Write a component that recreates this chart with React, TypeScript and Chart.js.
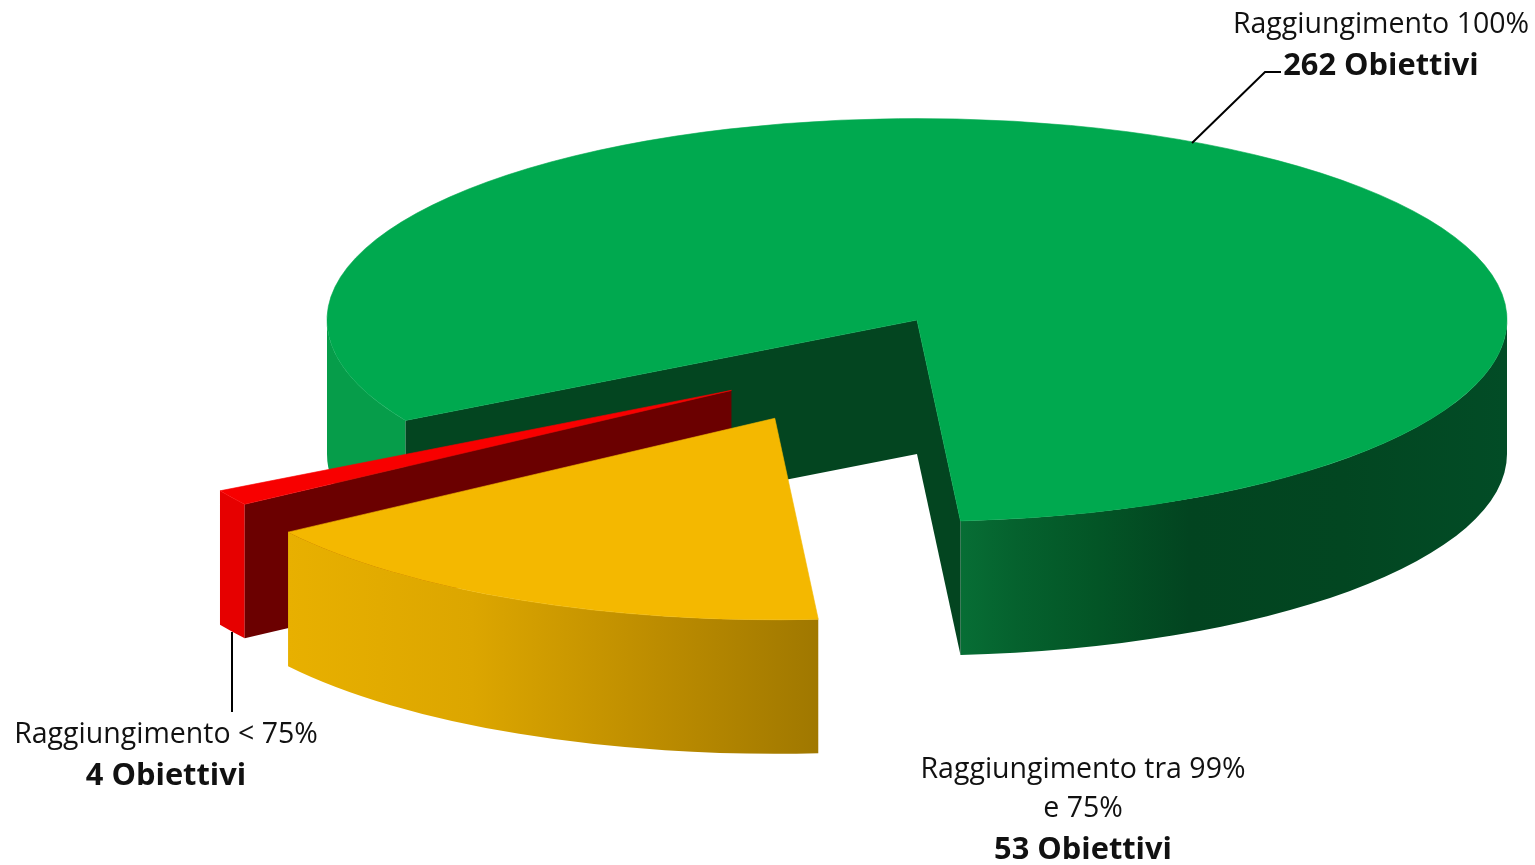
import React, { useEffect, useRef } from "react";
import { Chart, registerables } from "chart.js";

Chart.register(...registerables);

const objectiveCounts = [262, 53, 4];
const categoryLines = [
  ["Raggiungimento 100%"],
  ["Raggiungimento tra 99%", "e 75%"],
  ["Raggiungimento < 75%"],
];
const countSuffix = "Obiettivi";
const topColors = ["#00a94f", "#f4b800", "#f80000"];
const cutColors = ["#034520", "#000000", "#6b0000"];

const view = {
  cx: 917,
  cy: 320,
  rx: 590,
  ry: 201.5,
  depth: 134,
  // explode distance (unit radius) and direction per slice
  explode: [0, 0.544, 0.47],
  explodeDir: [0, 116.3, 132],
  drawOrder: [0, 2, 1],
  rimGradients: [
    [
      { from: 327, to: 405, stops: [[0, "#069d4a"], [1, "#069d4a"]] },
      {
        from: 960,
        to: 1507,
        stops: [[0, "#076e35"], [0.1, "#05622e"], [0.25, "#035526"], [0.42, "#024420"], [0.7, "#024621"], [1, "#024c26"]],
      },
    ],
    [{ from: 287, to: 818, stops: [[0, "#e8b000"], [0.35, "#dca600"], [0.7, "#bc8c00"], [1, "#a07800"]] }],
    [{ from: 219, to: 245, stops: [[0, "#e60000"], [1, "#e60000"]] }],
  ],
  labels: [
    { x: 1381, ys: [25], boldY: 66 },
    { x: 1083, ys: [770, 809], boldY: 850 },
    { x: 166, ys: [735], boldY: 776 },
  ],
  leaders: [
    [[1192, 143], [1265, 72], [1281, 72]],
    [[232, 632], [232, 712]],
  ],
  font: '"Open Sans"',
  regularSize: 28.5,
  boldSize: 30.8,
};

const pie3d = {
  id: "pie3d",
  beforeDatasetsDraw(chart: any) {
    const ctx = chart.ctx as CanvasRenderingContext2D;
    const arcs = chart.getDatasetMeta(0).data as any[];
    const { cx, cy, rx, ry, depth } = view;

    view.drawOrder.forEach((i) => {
      const arc = arcs[i];
      const a = arc.startAngle as number;
      const b = arc.endAngle as number;
      const dir = (view.explodeDir[i] * Math.PI) / 180;
      const ox = cx + view.explode[i] * Math.cos(dir) * rx;
      const oy = cy + view.explode[i] * Math.sin(dir) * ry;
      const rim = (t: number, dz = 0): [number, number] => [
        ox + Math.cos(t) * rx,
        oy + Math.sin(t) * ry + dz,
      ];

      // outer wall: parts of the rim that face the viewer
      const spans: [number, number][] = [];
      for (let k = -1; k <= 2; k++) {
        const lo = Math.max(a, k * 2 * Math.PI);
        const hi = Math.min(b, k * 2 * Math.PI + Math.PI);
        if (hi > lo) spans.push([lo, hi]);
      }
      spans.forEach(([lo, hi]) => {
        const x0 = rim(lo)[0];
        const x1 = rim(hi)[0];
        const left = Math.min(x0, x1);
        const right = Math.max(x0, x1);
        const mid = (left + right) / 2;
        const spec =
          view.rimGradients[i].find((g) => mid >= g.from && mid <= g.to) ?? view.rimGradients[i][0];
        const grad = ctx.createLinearGradient(spec.from, 0, spec.to, 0);
        spec.stops.forEach(([p, c]) => grad.addColorStop(p as number, c as string));
        ctx.beginPath();
        ctx.ellipse(ox, oy, rx, ry, 0, lo, hi);
        ctx.ellipse(ox, oy + depth, rx, ry, 0, hi, lo, true);
        ctx.closePath();
        ctx.fillStyle = grad;
        ctx.fill();
      });

      // cut faces that face the viewer
      const cutFace = (t: number) => {
        const p = rim(t);
        ctx.beginPath();
        ctx.moveTo(ox, oy);
        ctx.lineTo(p[0], p[1]);
        ctx.lineTo(p[0], p[1] + depth);
        ctx.lineTo(ox, oy + depth);
        ctx.closePath();
        ctx.fillStyle = cutColors[i];
        ctx.fill();
      };
      if (Math.cos(a) < 0) cutFace(a);
      if (Math.cos(b) > 0) cutFace(b);

      // top face
      ctx.beginPath();
      ctx.moveTo(ox, oy);
      ctx.ellipse(ox, oy, rx, ry, 0, a, b);
      ctx.closePath();
      ctx.fillStyle = arc.options.backgroundColor;
      ctx.fill();
      ctx.strokeStyle = arc.options.backgroundColor;
      ctx.lineWidth = 0.6;
      ctx.stroke();
    });

    // leader lines
    ctx.strokeStyle = "#000000";
    ctx.lineWidth = 2;
    view.leaders.forEach((pts) => {
      ctx.beginPath();
      pts.forEach(([x, y], n) => (n ? ctx.lineTo(x, y) : ctx.moveTo(x, y)));
      ctx.stroke();
    });

    // labels
    ctx.save();
    (ctx as any).filter = "blur(0.4px)";
    ctx.textAlign = "center";
    ctx.textBaseline = "middle";
    ctx.fillStyle = "#111111";
    view.labels.forEach((l, i) => {
      ctx.font = `${view.regularSize}px ${view.font}`;
      categoryLines[i].forEach((t, n) => ctx.fillText(t, l.x, l.ys[n]));
      ctx.font = `bold ${view.boldSize}px ${view.font}`;
      ctx.fillText(`${objectiveCounts[i]} ${countSuffix}`, l.x, l.boldY);
    });
    ctx.restore();
    return false;
  },
};

export default function App() {
  const ref = useRef<HTMLCanvasElement>(null);
  useEffect(() => {
    const chart = new Chart(ref.current as HTMLCanvasElement, {
      type: "pie",
      data: {
        labels: categoryLines.map((l) => l.join(" ")),
        datasets: [{ data: objectiveCounts, backgroundColor: topColors, borderWidth: 0 }],
      },
      options: {
        responsive: false,
        animation: false,
        rotation: 240.1,
        layout: { padding: 0 },
        events: [],
        plugins: { legend: { display: false }, tooltip: { enabled: false } },
      },
      plugins: [pie3d],
    } as any);
    return () => chart.destroy();
  }, []);
  return (
    <div style={{ position: "fixed", left: 0, top: 0, width: 1535, height: 865, background: "#fff" }}>
      <canvas ref={ref} width={1535} height={865} style={{ display: "block" }} />
    </div>
  );
}
